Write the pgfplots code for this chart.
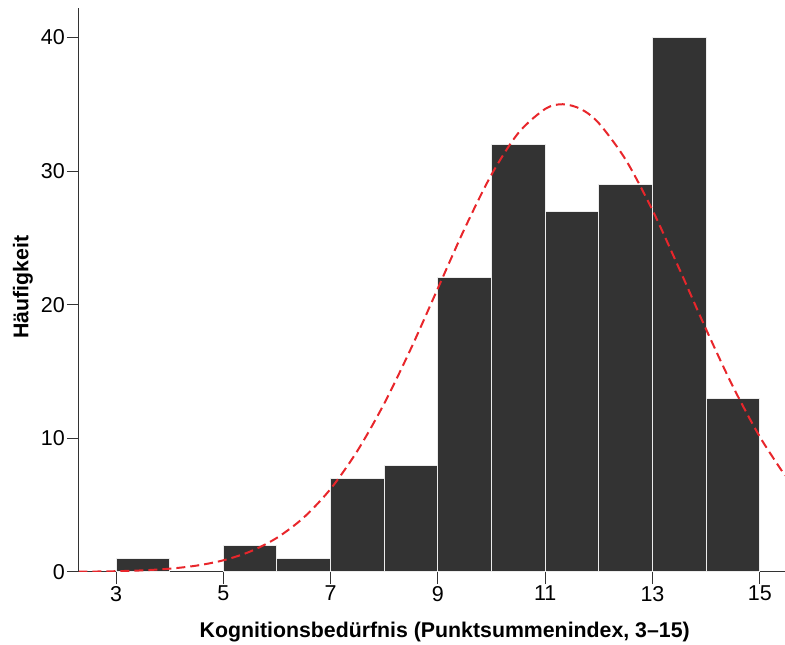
\documentclass[border=0pt]{standalone}
\usepackage{fontspec}
\setmainfont{Liberation Sans}
\usepackage{pgfplots}
\pgfplotsset{compat=1.18}
\definecolor{barfill}{HTML}{333333}
\definecolor{curvered}{HTML}{E8262B}
\definecolor{axgray}{HTML}{333333}
\begin{document}
\begin{tikzpicture}
\path[use as bounding box] (-79pt,-73pt) rectangle (706pt,572pt);
\begin{axis}[
  at={(0pt,0pt)}, anchor=south west,
  scale only axis,
  width=706pt, height=564pt,
  xmin=2.31, xmax=15.47,
  ymin=0, ymax=42.2,
  axis lines*=left,
  axis line style={axgray, line width=1pt},
  xtick={3,5,7,9,11,13,15},
  ytick={0,10,20,30,40},
  tick style={axgray, line width=1pt},
  major tick length=12pt,
  tick align=outside,
  /pgf/number format/assume math mode=true,
  tick label style={font=\fontsize{21.5}{23}\selectfont, black},
  xticklabel style={inner sep=2pt},
  yticklabel style={inner sep=2pt},
  xlabel={\textbf{Kognitionsbedürfnis (Punktsummenindex, 3–15)}},
  ylabel={\textbf{Häufigkeit}},
  label style={font=\fontsize{21.3}{23}\selectfont},
  xlabel style={at={(axis description cs:0.518,-0.1064)}, anchor=center},
  ylabel style={at={(axis description cs:-0.0795,0.505)}, anchor=center, rotate=0},
  clip=true,
]
\addplot[ybar interval, fill=barfill, draw=white!85!gray, line width=1pt]
  coordinates {(3,1) (4,1)};
\addplot[ybar interval, fill=barfill, draw=white!85!gray, line width=1pt]
  coordinates {(5,2) (6,1) (7,7) (8,8) (9,22) (10,32) (11,27) (12,29) (13,40) (14,13) (15,13)};
\addplot[curvered, line width=2pt, dash pattern=on 9pt off 5pt, smooth]
  coordinates {
  (2.3,0.019) (3,0.059) (3.5,0.124) (4,0.248) (4.5,0.477) (5,0.874)
  (5.5,1.53) (6,2.56) (6.5,4.08) (7,6.22) (7.5,9.07) (8,12.61)
  (8.5,16.74) (9,21.23) (9.5,25.71) (10,29.74) (10.5,32.85) (11,34.65)
  (11.33,35.0) (11.67,34.63) (12,33.58) (12.5,30.85) (13,27.07) (13.5,22.68)
  (14,18.15) (14.5,13.87) (15,10.12) (15.47,7.22)};
\end{axis}
\end{tikzpicture}
\end{document}
